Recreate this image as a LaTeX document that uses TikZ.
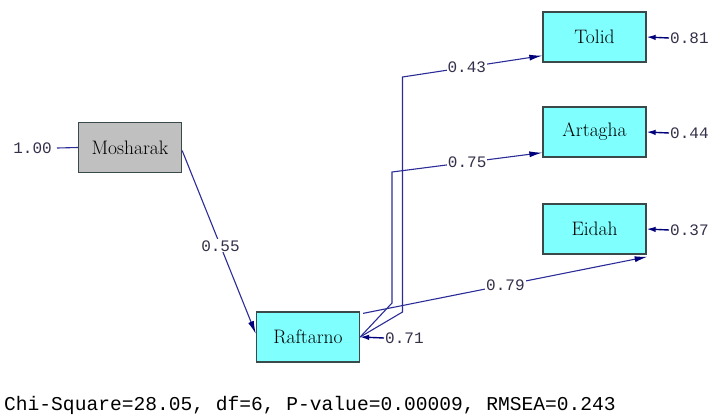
\documentclass[tikz,border=0pt]{standalone}
\usepackage{fontspec}
\setmonofont{Liberation Mono}
\usetikzlibrary{arrows.meta}
\definecolor{pathline}{HTML}{2C2C98}
\definecolor{headcol}{HTML}{00007A}
\definecolor{boxcyan}{HTML}{80FFFF}
\definecolor{boxgray}{HTML}{C0C0C0}
\definecolor{boxedge}{HTML}{3A4A4A}
\definecolor{coefcol}{HTML}{34304A}
\tikzset{
  latent/.style={draw=boxedge, line width=1.3pt, minimum width=103pt, minimum height=50pt,
    inner sep=0pt, font=\fontsize{19.5}{22}\selectfont},
  obsbox/.style={latent, fill=boxcyan},
  exobox/.style={latent, fill=boxgray},
  coef/.style={font=\ttfamily\fontsize{16}{18}\selectfont, text=coefcol, inner sep=1pt},
  coefbg/.style={coef, fill=white},
  path arrow/.style={draw=pathline, line width=1.1pt,
    -{Latex[length=13pt, width=6pt, color=headcol]}},
  err arrow/.style={draw=headcol, line width=1.4pt,
    -{Latex[length=9pt, width=5.5pt, color=headcol]}},
}
\begin{document}
\begin{tikzpicture}[x=1pt, y=-1pt]
  \useasboundingbox (0,0) rectangle (712,416);

  % variables
  \node[exobox] (mosh) at (130,147.5) {Mosharak};
  \node[obsbox] (raf)  at (308,337)   {Raftarno};
  \node[obsbox] (tol)  at (594.5,37)  {Tolid};
  \node[obsbox] (art)  at (594.5,132) {Artagha};
  \node[obsbox] (eid)  at (594.5,229) {Eidah};

  % variance of the exogenous variable
  \node[coef, anchor=east] (vmosh) at (53,148) {1.00};
  \draw[draw=pathline, line width=1.1pt] (vmosh.east) ++(4,0) -- (mosh.west);

  % Mosharak -> Raftarno
  \draw[path arrow] ([yshift=-3pt]mosh.east) -- ([yshift=3pt]raf.west)
    node[coefbg, pos=0.52] {0.55};

  % Raftarno -> Tolid (routed through the upper bend)
  \coordinate (tbot) at (402.5,312);
  \coordinate (ttop) at (402.5,77);
  \draw[path arrow] (raf.east) -- (tbot) -- (ttop) -- ([yshift=7pt]tol.south west)
    node[coefbg, pos=0.46] {0.43};

  % Raftarno -> Artagha
  \coordinate (abot) at (392,303);
  \coordinate (atop) at (392,172);
  \draw[path arrow] (raf.east) -- (abot) -- (atop) -- ([yshift=5pt]art.south west)
    node[coefbg, pos=0.5] {0.75};

  % Raftarno -> Eidah
  \draw[path arrow] ([shift={(3pt,-2pt)}]raf.north east) -- ([shift={(1pt,-2pt)}]eid.south east)
    node[coefbg, pos=0.5] {0.79};

  % error variances
  \node[coef, anchor=west] (etol) at (669,38)  {0.81};
  \node[coef, anchor=west] (eart) at (669,133) {0.44};
  \node[coef, anchor=west] (eeid) at (669,230) {0.37};
  \node[coef, anchor=west] (eraf) at (384,338) {0.71};
  \draw[err arrow] (etol.west) -- (tol.east);
  \draw[err arrow] (eart.west) -- (art.east);
  \draw[err arrow] (eeid.west) -- (eid.east);
  \draw[err arrow] (eraf.west) -- (raf.east);

  % fit statistics
  \node[anchor=west, inner sep=0pt, font=\ttfamily\fontsize{19.6}{22}\selectfont] (fit)
    at (4,405) {Chi-Square=28.05, df=6, P-value=0.00009, RMSEA=0.243};
\end{tikzpicture}
\end{document}
